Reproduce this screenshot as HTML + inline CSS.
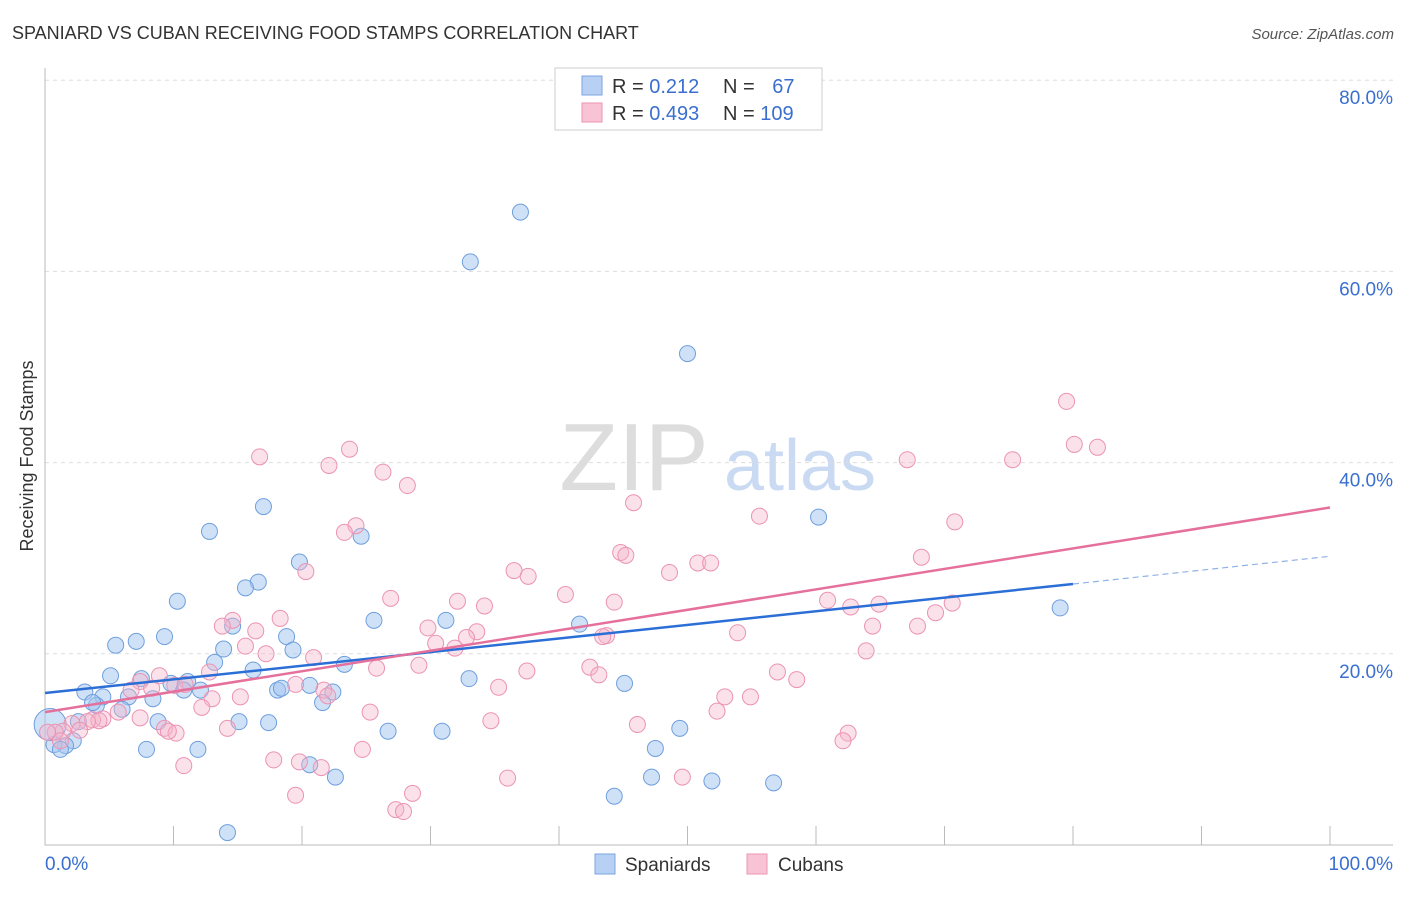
<!DOCTYPE html>
<html><head><meta charset="utf-8"><style>
body{margin:0;background:#fff;font-family:"Liberation Sans",sans-serif}
svg text{font-family:"Liberation Sans",sans-serif}
</style></head><body>
<svg id="chart" width="1406" height="892" xmlns="http://www.w3.org/2000/svg">
<text x="12" y="39" font-size="18" fill="#333">SPANIARD VS CUBAN RECEIVING FOOD STAMPS CORRELATION CHART</text>
<text x="1394" y="39" font-size="15" fill="#555" text-anchor="end" font-style="italic">Source: ZipAtlas.com</text>
<text x="33" y="456" font-size="18" fill="#333" text-anchor="middle" transform="rotate(-90 33 456)">Receiving Food Stamps</text>
<g><text x="634" y="490" font-size="96" fill="#ddd" font-family="Liberation Serif" text-anchor="middle">ZIP</text><text x="800" y="490" font-size="72" fill="#c9daf2" text-anchor="middle">atlas</text></g>
<g id="grid"></g><g id="axes"></g><g id="pts"></g><g id="lines"></g>
<g>
<rect x="555" y="68" width="267" height="62" fill="#fff" stroke="#ccc"/>
<rect x="582" y="76" width="20" height="19" fill="#b7d0f3" stroke="#7aa6e0"/>
<rect x="582" y="103" width="20" height="19" fill="#f8c4d5" stroke="#eb93b3"/>
<text x="612" y="93" font-size="20" fill="#333">R = <tspan fill="#3a6fd0">0.212</tspan></text>
<text x="723" y="93" font-size="20" fill="#333">N = <tspan fill="#3a6fd0" dx="12">67</tspan></text>
<text x="612" y="120" font-size="20" fill="#333">R = <tspan fill="#3a6fd0">0.493</tspan></text>
<text x="723" y="120" font-size="20" fill="#333">N = <tspan fill="#3a6fd0">109</tspan></text>
</g>
<g>
<rect x="595" y="854" width="20" height="20" fill="#b7d0f3" stroke="#7aa6e0"/>
<text x="625" y="871" font-size="19" fill="#333">Spaniards</text>
<rect x="747" y="854" width="20" height="20" fill="#f8c4d5" stroke="#eb93b3"/>
<text x="778" y="871" font-size="19" fill="#333">Cubans</text>
</g>
</svg>
<script>
const yTicks=[20,40,60,80];
const xTickLabels=["0.0%","100.0%"];
const blueX=[37.0,33.1,50.0,60.2,79.0,17.0,12.8,24.6,16.6,15.6,19.8,10.3,7.1,5.5,9.3,14.6,18.8,19.3,13.9,13.2,16.2,25.6,31.2,41.6,23.3,5.1,7.5,3.1,6.5,4.5,11.1,9.8,10.8,12.1,8.4,4.0,3.7,6.0,18.1,18.4,20.6,21.6,22.4,33.0,45.1,15.1,17.4,8.8,2.6,26.7,30.9,49.4,47.5,7.9,11.9,2.2,1.6,0.7,1.2,20.6,22.6,47.2,51.9,56.7,44.3,14.2,0.4];
const blueY=[66.2,61.0,51.4,34.3,24.8,35.4,32.8,32.3,27.5,26.9,29.6,25.5,21.3,20.9,21.8,22.9,21.8,20.4,20.5,19.1,18.3,23.5,23.5,23.1,18.9,17.7,17.4,16.0,15.5,15.5,17.1,16.9,16.2,16.2,15.3,14.6,14.9,14.2,16.2,16.4,16.7,14.9,16.0,17.4,16.9,12.9,12.8,12.9,12.9,11.9,11.9,12.2,10.1,10.0,10.0,10.9,10.4,10.5,10.0,8.4,7.1,7.1,6.7,6.5,5.1,1.3,12.6];
const pinkX=[79.5,80.1,81.9,67.1,75.3,16.7,23.7,22.1,26.3,28.2,45.8,55.6,70.8,24.2,23.3,44.8,45.2,68.2,50.8,51.8,36.5,37.6,48.6,20.3,26.9,32.1,34.2,40.5,44.3,60.9,62.7,64.9,70.6,69.3,14.6,18.3,13.8,16.4,29.8,33.6,32.8,43.7,43.4,53.9,64.4,67.9,15.6,17.2,20.9,30.4,31.9,63.9,29.1,25.8,37.5,42.4,43.1,57.0,58.5,12.8,8.9,7.4,6.7,8.3,10.1,10.9,19.5,21.7,22.0,35.3,52.9,54.9,15.2,13.0,12.2,5.7,7.4,4.5,3.7,4.2,3.3,25.3,34.7,46.1,52.3,62.5,62.1,2.1,2.7,1.4,0.8,9.3,10.2,9.6,14.2,24.7,10.8,17.8,19.8,21.5,36.0,49.6,19.5,28.6,27.3,27.9,0.2,1.2];
const pinkY=[46.4,41.9,41.6,40.3,40.3,40.6,41.4,39.7,39.0,37.6,35.8,34.4,33.8,33.4,32.7,30.6,30.3,30.1,29.5,29.5,28.7,28.1,28.5,28.6,25.8,25.5,25.0,26.2,25.4,25.6,24.9,25.2,25.3,24.3,23.5,23.7,22.9,22.4,22.7,22.3,21.7,21.9,21.8,22.2,22.9,22.9,20.8,20.0,19.6,21.1,20.6,20.3,18.8,18.5,18.2,18.6,17.8,18.1,17.3,18.1,17.7,17.1,16.2,16.4,16.7,16.8,16.8,16.2,15.6,16.5,15.5,15.5,15.5,15.3,14.4,13.9,13.3,13.2,13.1,13.0,12.9,13.9,13.0,12.6,14.0,11.7,10.9,12.7,12.0,11.9,11.8,12.2,11.7,11.9,12.2,10.0,8.3,8.9,8.7,8.1,7.0,7.1,5.2,5.4,3.7,3.5,11.8,10.9];
const blueLine=[15.9,27.3,30.2]; // y at x=0, x=80, x=100
const pinkLine=[13.9,35.3];       // y at x=0, x=100
const NS="http://www.w3.org/2000/svg";
const X=v=>45+v*12.85, Y=v=>845-v*9.56;
function mk(t,a,p){const e=document.createElementNS(NS,t);for(const k in a)e.setAttribute(k,a[k]);p.appendChild(e);return e;}
const grid=document.getElementById('grid'),axes=document.getElementById('axes'),pts=document.getElementById('pts'),lines=document.getElementById('lines');
yTicks.forEach(t=>{
 const l=mk('line',{x1:45,x2:1393,y1:Y(t),y2:Y(t),stroke:'#ddd','stroke-dasharray':'4,4'},grid);
 
 
 const tx=mk('text',{x:1393,y:Y(t)+24,'font-size':19,fill:'#3a6fd0','text-anchor':'end'},grid);
 tx.textContent=t.toFixed(1)+'%';
 
 
});
const ax=mk('path',{d:'M45 68V845H1393',stroke:'#bbb',fill:'none'},axes);


for(let i=1;i<=10;i++){const t=mk('line',{x1:X(i*10),x2:X(i*10),y1:826,y2:845,stroke:'#bbb'},axes);
 
 }
[[0,'start',45],[100,'end',1393]].forEach((d,i)=>{const t=mk('text',{x:d[2],y:870,'font-size':19,fill:'#3a6fd0','text-anchor':d[1]},axes);t.textContent=xTickLabels[i];
 
 });
blueX.forEach((x,i)=>{const c=mk('circle',{cx:X(x),cy:Y(blueY[i]),r:i==blueX.length-1?16:8,fill:'rgba(160,195,240,0.5)',stroke:'#6f9fdd','stroke-width':1},pts);
 
 });
pinkX.forEach((x,i)=>{const c=mk('circle',{cx:X(x),cy:Y(pinkY[i]),r:8,fill:'rgba(245,180,202,0.4)',stroke:'#eb93b3','stroke-width':1},pts);
 
 });
const bl=mk('line',{x1:X(0),y1:Y(blueLine[0]),x2:X(80),y2:Y(blueLine[1]),stroke:'#2b6fd6','stroke-width':2.5},lines);


const bd=mk('line',{x1:X(80),y1:Y(blueLine[1]),x2:X(100),y2:Y(blueLine[2]),stroke:'#8fb2e6','stroke-width':1.2,'stroke-dasharray':'6,4'},lines);


const pl=mk('line',{x1:X(0),y1:Y(pinkLine[0]),x2:X(100),y2:Y(pinkLine[1]),stroke:'#e5709b','stroke-width':2.5},lines);


</script>
</body></html>
